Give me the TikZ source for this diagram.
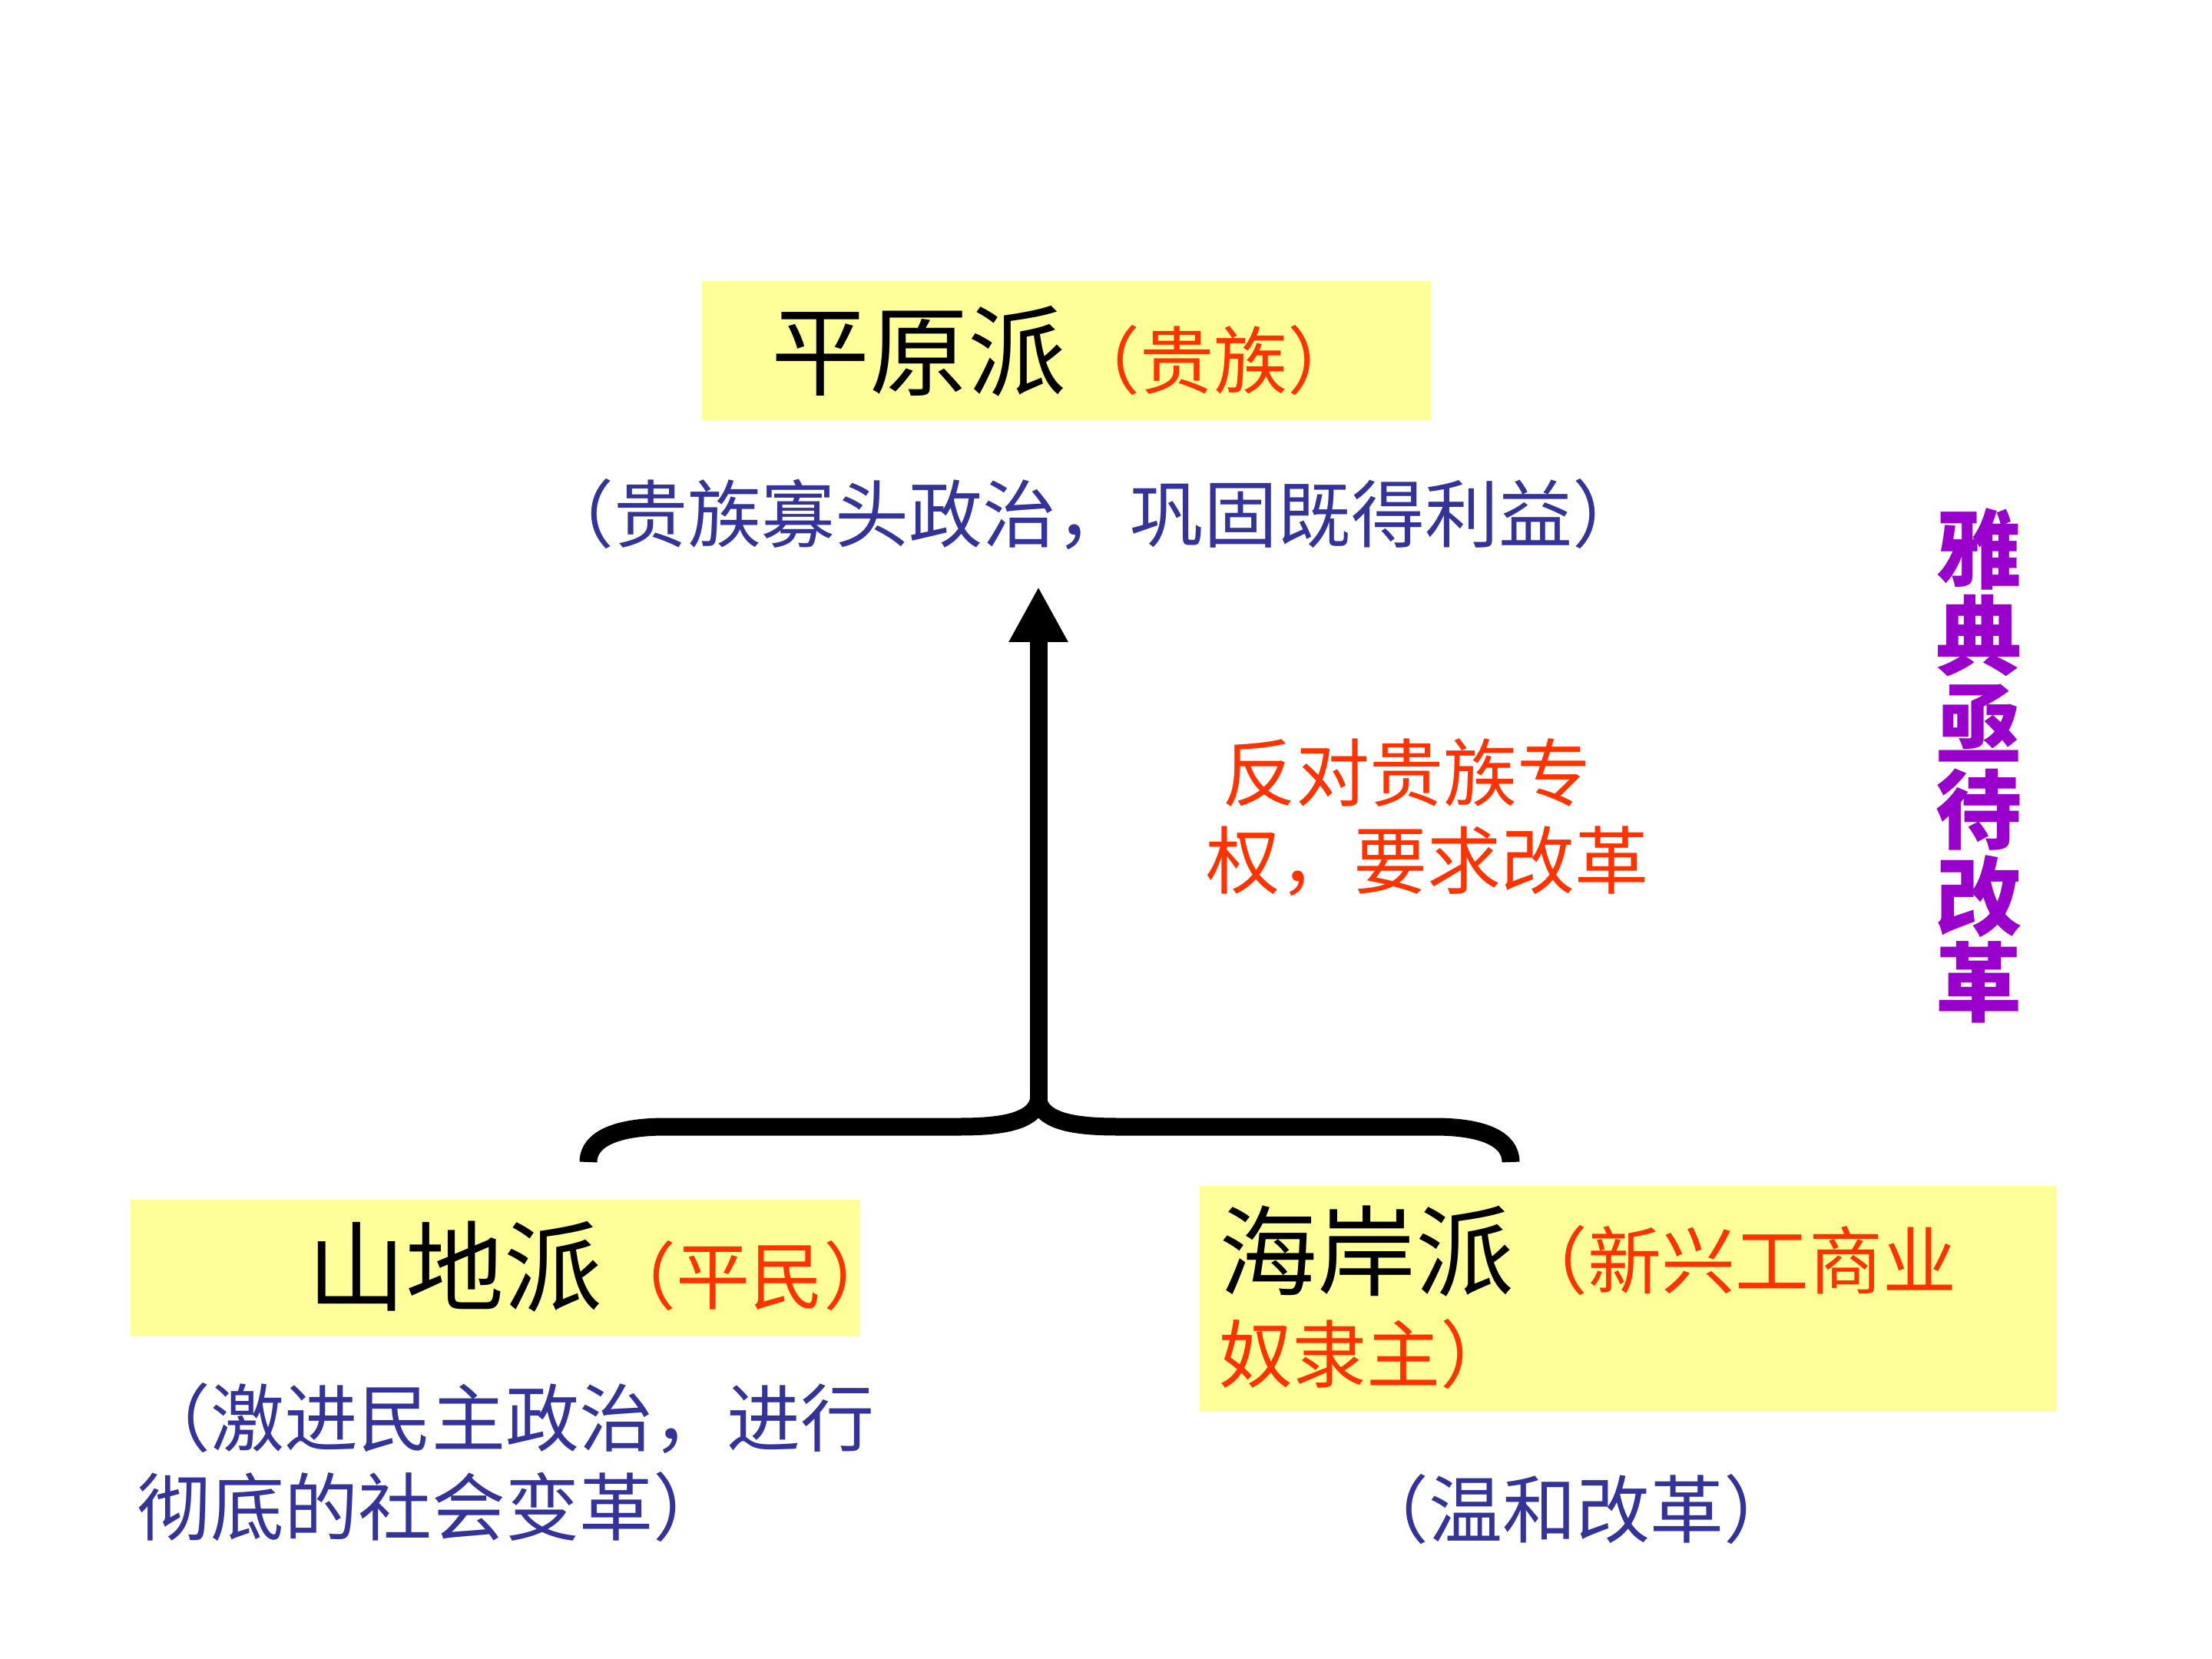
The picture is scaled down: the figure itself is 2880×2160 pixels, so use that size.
\documentclass[tikz,border=0pt]{standalone}
\usepackage{fontspec}
\setmainfont{Noto Sans CJK SC}
\usetikzlibrary{arrows.meta}
\definecolor{boxyellow}{HTML}{FFFF99}
\definecolor{tred}{HTML}{FF3300}
\definecolor{tblue}{HTML}{333399}
\definecolor{tpurple}{HTML}{9900CC}
\lineskiplimit=-100pt
\begin{document}
\begin{tikzpicture}[x=0.25pt,y=-0.25pt,
  ybox/.style={fill=boxyellow, draw=none, inner sep=0, anchor=north west},
  txt/.style={inner sep=0},
  mid/.style={font=\fontsize{24}{29}\selectfont},
  thick line/.style={line width=5.75pt, black, line cap=butt}]
\useasboundingbox (0,0) rectangle (2880,2160);

% yellow boxes
\node[ybox, minimum width=237.25pt, minimum height=45.25pt] (topbox) at (913,365) {};
\node[ybox, minimum width=237.5pt, minimum height=44.5pt] (leftbox) at (169,1561) {};
\node[ybox, minimum width=278.75pt, minimum height=73.5pt] (rightbox) at (1561,1543) {};

% titles
\node[txt, anchor=base west] (toptitle) at (1004,506)
  {\fontsize{32}{38}\selectfont 平原派\fontsize{24}{29}\selectfont\color{tred}（贵族）};
\node[txt, anchor=base west] (lefttitle) at (400,1697)
  {\fontsize{32}{38}\selectfont 山地派\fontsize{24}{29}\selectfont\color{tred}（平民）};
\node[txt, anchor=base west] (righttitle) at (1587,1677)
  {\fontsize{24}{30.5}\selectfont\vtop{\hbox{\fontsize{32}{38}\selectfont 海岸派\fontsize{24}{29}\selectfont\color{tred}（新兴工商业}\hbox{\color{tred}奴隶主）}}};

% descriptions
\node[txt, mid, text=tblue, anchor=base] (topdesc) at (1423,706) {（贵族寡头政治，巩固既得利益）};
\node[txt, text=tblue, anchor=base west] (leftdesc) at (178,1882)
  {\fontsize{24}{29}\selectfont\vtop{\hbox{（激进民主政治，进行}\hbox{彻底的社会变革）}}};
\node[txt, mid, text=tblue, anchor=base] (rightdesc) at (2052,2001) {（温和改革）};

% middle red text
\node[txt, text=tred, anchor=base west] (reason) at (1570,1042)
  {\fontsize{24}{28.5}\selectfont\vtop{\hbox{\hspace{5.25pt}反对贵族专}\hbox{权，要求改革}}};

% vertical purple text
\node[txt, text=tpurple, anchor=base] (athens) at (2576,758)
  {\fontsize{28}{28.2}\selectfont\bfseries\vtop{\hbox{雅}\hbox{典}\hbox{亟}\hbox{待}\hbox{改}\hbox{革}}};

% brace and arrow
\coordinate (cusp) at (1352,1434);
\coordinate (tip) at (1352,764);
\coordinate (bl) at (766,1513);
\coordinate (br) at (1967,1513);
\draw[thick line] (cusp) .. controls (1345,1460) and (1305,1467) .. (1250,1467)
  -- (866,1467) .. controls (805,1467) and (766,1482) .. (bl);
\draw[thick line] (cusp) .. controls (1359,1460) and (1399,1467) .. (1454,1467)
  -- (1868,1467) .. controls (1929,1467) and (1967,1482) .. (br);
\draw[thick line, -{Triangle[length=18pt,width=18pt]}] (cusp) -- (tip);
\end{tikzpicture}
\end{document}
